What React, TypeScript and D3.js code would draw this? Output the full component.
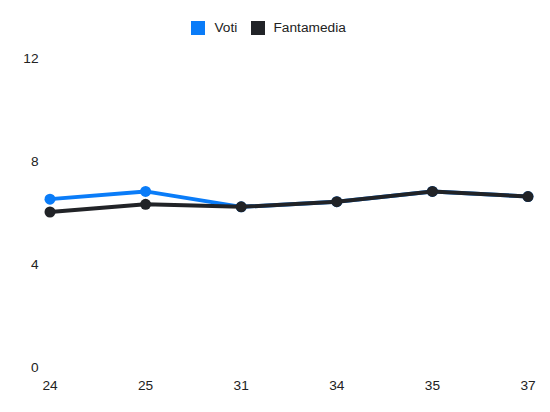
import React from "react";
import * as d3 from "d3";

const categories = ["24", "25", "31", "34", "35", "37"];
const votiValues = [6.5, 6.8, 6.2, 6.4, 6.8, 6.6];
const fantamediaValues = [6.0, 6.3, 6.2, 6.4, 6.8, 6.6];
const yTicks = [0, 4, 8, 12];
const seriesNames = ["Voti", "Fantamedia"];
const seriesColors = ["#0a7cf8", "#212327"];

export default function App() {
  const W = 550, H = 412;
  const x = d3.scalePoint<string>().domain(categories).range([50, 528]);
  const y = d3.scaleLinear().domain([0, 12]).range([366.5, 57.5]);
  const line = d3.line<number>().x((_, i) => x(categories[i]) as number).y((d) => y(d));
  const series = [votiValues, fantamediaValues];
  const font = "'Liberation Sans', Arial, sans-serif";
  const fs = 13.7;
  return (
    <svg width={W} height={H} style={{ position: "absolute", left: 0, top: 0 }}>
      <rect width={W} height={H} fill="#fff" />
      {yTicks.map((t) => (
        <text key={t} x={38.5} y={y(t) + 1.5} textAnchor="end" dominantBaseline="middle" fontFamily={font} fontSize={fs} fill="#222">{t}</text>
      ))}
      {categories.map((c) => (
        <text key={c} x={x(c) as number} y={386.5} textAnchor="middle" dominantBaseline="middle" fontFamily={font} fontSize={fs} fill="#222">{c}</text>
      ))}
      {series.map((s, si) => (
        <g key={si}>
          <path d={line(s) as string} fill="none" stroke={seriesColors[si]} strokeWidth={4} strokeLinejoin="round" />
          {s.map((v, i) => (
            <circle key={i} cx={x(categories[i]) as number} cy={y(v)} r={5.5} fill={seriesColors[si]} />
          ))}
        </g>
      ))}
      <g>
        <rect x={191} y={21} width={14} height={14} fill={seriesColors[0]} />
        <text x={214.5} y={28} dominantBaseline="middle" fontFamily={font} fontSize={fs} fill="#222">{seriesNames[0]}</text>
        <rect x={251} y={21} width={14} height={14} fill={seriesColors[1]} />
        <text x={273.5} y={28} dominantBaseline="middle" fontFamily={font} fontSize={fs} fill="#222">{seriesNames[1]}</text>
      </g>
    </svg>
  );
}
